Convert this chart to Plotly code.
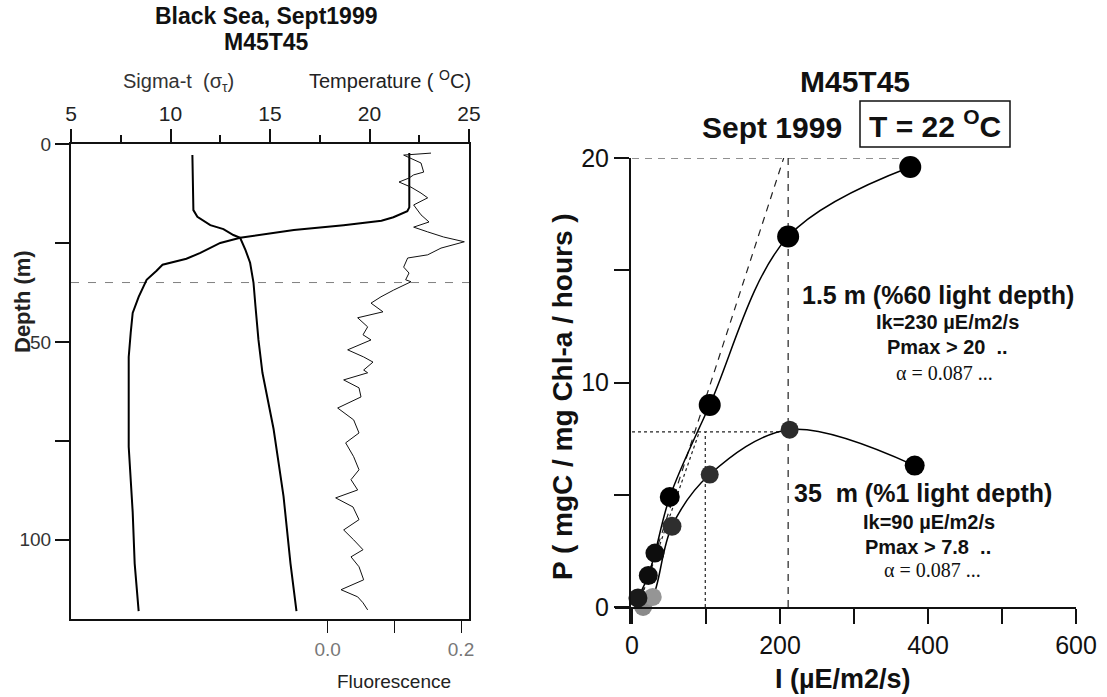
import plotly.graph_objects as go

W, H = 1107, 697
SANS = "Liberation Sans, Arial, sans-serif"
SERIF = "Liberation Serif, Times New Roman, serif"

# ---------------- Left panel data (CTD profile) ----------------
depth_T = [2.3, 16.0, 17.0, 18.5, 19.4, 20.5, 21.7, 23.0, 23.7, 25.0, 27.5, 29.0, 30.5, 32.0,
           34.3, 38.6, 42.7, 47.7, 53.8, 62.0, 76.5, 93.0, 106.0, 118.0]
temperature = [22.0, 22.0, 21.9, 21.2, 20.6, 18.7, 16.2, 14.5, 13.5, 12.5, 11.5, 10.8, 9.6, 9.3,
               8.8, 8.4, 8.1, 8.0, 7.9, 7.9, 7.9, 8.1, 8.2, 8.4]

depth_S = [2.8, 16.7, 18.4, 20.5, 21.5, 23.0, 23.7, 26.8, 30.0, 35.0, 41.0, 49.5, 57.8, 72.0,
           80.5, 89.0, 106.0, 118.0]
sigma_t = [11.1, 11.15, 11.35, 12.0, 12.66, 13.16, 13.5, 13.77, 14.0, 14.17, 14.27, 14.42, 14.62,
           15.18, 15.43, 15.68, 16.03, 16.33]

depth_F = [2.3, 2.8, 4.8, 7.1, 7.8, 8.6, 9.6, 10.9, 12.4, 13.6, 15.4, 17.9, 19.7, 21.0, 22.2,
           23.5, 24.7, 26.3, 28.0, 28.8, 31.1, 32.6, 34.3, 34.8, 36.9, 38.6, 40.2, 42.4, 43.9,
           46.2, 48.2, 49.5, 52.0, 53.8, 55.1, 57.1, 57.8, 59.6, 61.6, 63.9, 66.7, 69.7, 73.0,
           75.5, 79.0, 82.3, 84.8, 87.4, 89.4, 91.7, 94.9, 97.5, 100.0, 102.5, 104.3, 106.8,
           110.1, 112.6, 114.4, 115.9, 117.7]
fluorescence = [0.155, 0.114, 0.140, 0.144, 0.129, 0.122, 0.107, 0.125, 0.140, 0.150, 0.129,
                0.140, 0.152, 0.129, 0.150, 0.174, 0.205, 0.170, 0.150, 0.120, 0.114, 0.122,
                0.117, 0.125, 0.099, 0.080, 0.065, 0.083, 0.045, 0.060, 0.053, 0.065, 0.030,
                0.054, 0.068, 0.054, 0.060, 0.024, 0.047, 0.050, 0.015, 0.039, 0.047, 0.027,
                0.039, 0.047, 0.035, 0.045, 0.012, 0.038, 0.047, 0.024, 0.039, 0.053, 0.035,
                0.047, 0.054, 0.020, 0.045, 0.053, 0.060]

light_depth_1pct = 35
depth_ticks = [0, 25, 50, 75, 100]
depth_labels = ["0", " ", "50", " ", "100"]
top_ticks = [5, 10, 15, 20, 25]
fluo_ticks = [0.0, 0.1, 0.2]
fluo_labels = ["0.0", " ", "0.2"]

# ---------------- Right panel data (P-I curves) ----------------
I_surface = [8, 22, 31, 51, 105, 211, 376]
P_surface = [0.4, 1.4, 2.4, 4.9, 9.0, 16.5, 19.6]
I_deep = [15, 28, 54, 105, 213, 382]
P_deep = [0.0, 0.45, 3.6, 5.9, 7.9, 6.3]

Ik_surface, Pmax_surface = 211, 20
Ik_deep, Pmax_deep = 99, 7.8
alpha_surface_I = [8, 205]
alpha_surface_P = [0, 20]
alpha_deep_I = [8, 91]
alpha_deep_P = [0, 7.8]
pmax_surface_extent = [0, 362]
pmax_deep_extent = [0, 213]

I_ticks = [0, 100, 200, 300, 400, 500, 600]
I_labels = ["0", " ", "200", " ", "400", " ", "600"]
P_ticks = [0, 5, 10, 15, 20]
P_labels = ["0", " ", "10", " ", "20"]

# styles (kept separate from data)
surface_colors = ["#1a1a1a", "#0d0d0d", "#0d0d0d", "#000000", "#000000", "#000000", "#000000"]
surface_sizes = [19, 19, 19, 20, 22, 22, 22]
deep_colors = ["#8a8a8a", "#959595", "#2e2e2e", "#2e2e2e", "#2a2a2a", "#000000"]
deep_sizes = [18, 18, 19, 18, 18, 20]


def px(x):
    return x / W


def py(y):
    return 1 - y / H


fig = go.Figure()

# Left panel traces
fig.add_trace(go.Scatter(x=[5, 25], y=[light_depth_1pct] * 2, mode="lines",
                         line=dict(color="#808080", width=1, dash="8px,9px"),
                         xaxis="x", yaxis="y", hoverinfo="skip"))
fig.add_trace(go.Scatter(x=sigma_t, y=depth_S, mode="lines",
                         line=dict(color="#000", width=2), xaxis="x", yaxis="y"))
fig.add_trace(go.Scatter(x=temperature, y=depth_T, mode="lines",
                         line=dict(color="#000", width=2), xaxis="x", yaxis="y"))
fig.add_trace(go.Scatter(x=fluorescence, y=depth_F, mode="lines",
                         line=dict(color="#111", width=1), xaxis="x2", yaxis="y"))

# Right panel reference lines
dash_style = dict(color="#222", width=1.2, dash="7px,6px")
dot_style = dict(color="#222", width=1.2, dash="3px,3px")
fig.add_trace(go.Scatter(x=pmax_surface_extent, y=[Pmax_surface] * 2, mode="lines",
                         line=dash_style, xaxis="x3", yaxis="y3", cliponaxis=False))
fig.add_trace(go.Scatter(x=[Ik_surface] * 2, y=[0, Pmax_surface], mode="lines",
                         line=dash_style, xaxis="x3", yaxis="y3", cliponaxis=False))
fig.add_trace(go.Scatter(x=alpha_surface_I, y=alpha_surface_P, mode="lines",
                         line=dash_style, xaxis="x3", yaxis="y3", cliponaxis=False))
fig.add_trace(go.Scatter(x=pmax_deep_extent, y=[Pmax_deep] * 2, mode="lines",
                         line=dot_style, xaxis="x3", yaxis="y3", cliponaxis=False))
fig.add_trace(go.Scatter(x=[Ik_deep] * 2, y=[0, Pmax_deep], mode="lines",
                         line=dot_style, xaxis="x3", yaxis="y3", cliponaxis=False))
fig.add_trace(go.Scatter(x=alpha_deep_I, y=alpha_deep_P, mode="lines",
                         line=dot_style, xaxis="x3", yaxis="y3", cliponaxis=False))

# P-I curves with points
fig.add_trace(go.Scatter(x=I_deep, y=P_deep, mode="lines+markers",
                         line=dict(color="#000", width=1.5, shape="spline", smoothing=1.0),
                         marker=dict(size=deep_sizes, color=deep_colors, opacity=1,
                                     line=dict(width=0)),
                         xaxis="x3", yaxis="y3", cliponaxis=False))
fig.add_trace(go.Scatter(x=I_surface, y=P_surface, mode="lines+markers",
                         line=dict(color="#000", width=1.5, shape="spline", smoothing=1.0),
                         marker=dict(size=surface_sizes, color=surface_colors, opacity=1,
                                     line=dict(width=0)),
                         xaxis="x3", yaxis="y3", cliponaxis=False))


def ann(text, x, y, size, bold=True, color="#111", family=SANS, angle=0):
    return dict(text=f"<b>{text}</b>" if bold else text, x=px(x), y=py(y),
                xref="paper", yref="paper", showarrow=False, textangle=angle,
                font=dict(size=size, color=color, family=family),
                xanchor="center", yanchor="middle")


annotations = [
    ann("Black Sea, Sept1999", 266, 16, 23),
    ann("M45T45", 266, 42, 23),
    ann("Sigma-t &nbsp;(σ<sub>τ</sub>)", 178, 82, 20, bold=False, color="#333"),
    ann("Temperature ( <sup>O</sup>C)", 390, 80, 20, bold=False, color="#222"),
    ann("Depth (m)", 22, 302, 22, color="#222", angle=-90),
    ann("Fluorescence", 394, 681, 19, bold=False, color="#222"),
    ann("M45T45", 855, 81, 30),
    ann("Sept 1999", 772, 127, 30),
    ann("T = 22 <sup>O</sup>C", 935, 124, 30),
    ann("P ( mgC / mg Chl-a / hours )", 562, 397, 28, angle=-90),
    ann("I (µE/m2/s)", 843, 679, 27),
    ann("1.5 m (%60 light depth)", 938, 295, 25),
    ann("Ik=230 µE/m2/s", 947, 322, 20),
    ann("Pmax &gt; 20 &nbsp;..", 947, 347, 20),
    ann("α = 0.087 ...", 944, 373, 20, bold=False, family=SERIF),
    ann("35 &nbsp;m (%1 light depth)", 923, 493, 25),
    ann("Ik=90 µE/m2/s", 929, 522, 20),
    ann("Pmax &gt; 7.8 &nbsp;..", 928, 547, 20),
    ann("α = 0.087 ...", 932, 570, 20, bold=False, family=SERIF),
]

shapes = [
    dict(type="rect", xref="paper", yref="paper", x0=px(860), x1=px(1010), y0=py(147), y1=py(101),
         line=dict(color="#111", width=1.5)),
    dict(type="line", xref="paper", yref="paper", x0=px(630), x1=px(630), y0=py(607), y1=py(624),
         line=dict(color="#111", width=2)),
]

axis_common = dict(showgrid=False, zeroline=False, ticks="outside", tickcolor="#111",
                   linecolor="#111", showline=True, automargin=False)

left_dom = [px(71), px(469)]
right_dom = [px(615), px(1076)]

fig.update_layout(
    width=W, height=H, autosize=False,
    margin=dict(l=0, r=0, t=0, b=0, pad=0, autoexpand=False),
    paper_bgcolor="white", plot_bgcolor="white",
    showlegend=False,
    annotations=annotations, shapes=shapes,
    xaxis=dict(domain=left_dom, range=[5, 25], side="top", anchor="y",
               tickvals=top_ticks, ticklen=13, tickwidth=1.5, linewidth=2,
               minor=dict(tickvals=[7.5, 12.5, 17.5, 22.5], ticklen=7, ticks="outside",
                          tickcolor="#111", tickwidth=1.5),
               tickfont=dict(size=21, family=SANS, color="#222"), **axis_common),
    xaxis2=dict(range=[-0.385, 0.212], overlaying="x", side="bottom", anchor="y",
                tickvals=fluo_ticks, ticktext=fluo_labels, ticklen=12, tickwidth=1.2,
                linewidth=2, tickfont=dict(size=19, family=SANS, color="#777"), **axis_common),
    yaxis=dict(domain=[py(619), py(144)], range=[120, 0], anchor="x",
               tickvals=depth_ticks, ticktext=depth_labels, ticklen=14, tickwidth=1.5,
               linewidth=2, mirror=True, tickfont=dict(size=19, family=SANS, color="#333"),
               **axis_common),
    xaxis3=dict(domain=right_dom, range=[-23, 600], anchor="y3",
                tickvals=I_ticks, ticktext=I_labels, ticklen=15, tickwidth=1.5, linewidth=2,
                tickfont=dict(size=25, family=SANS, color="#111"), **axis_common),
    yaxis3=dict(domain=[py(607), py(158)], range=[0, 20], anchor="free", position=px(630),
                tickvals=P_ticks, ticktext=P_labels, ticklen=15, tickwidth=1.5, linewidth=2,
                tickfont=dict(size=25, family=SANS, color="#111"), **axis_common),
)

fig.write_html("out.html", config={"displayModeBar": False},
               post_script="document.body.style.margin='0';document.body.style.overflow='hidden';")
